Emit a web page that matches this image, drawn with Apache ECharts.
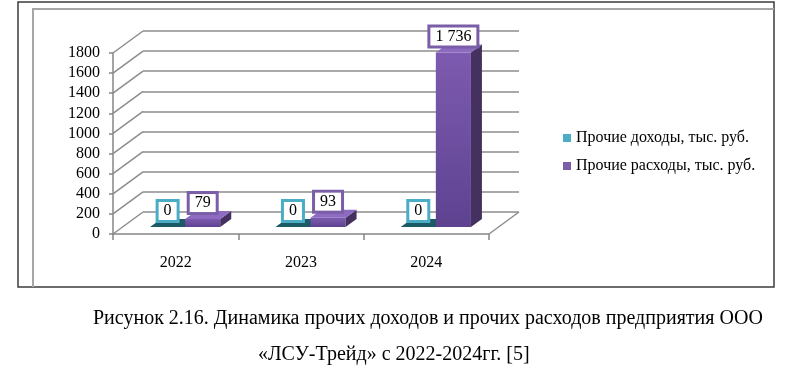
<!DOCTYPE html>
<html><head><meta charset="utf-8">
<script src="https://cdn.jsdelivr.net/npm/echarts@6/dist/echarts.min.js"></script>
<style>html,body{margin:0;padding:0;background:#fff}#c{width:800px;height:368px}</style>
</head><body><div id="c"></div>
<script>
const categories = ['2022', '2023', '2024'];
const incomeName = 'Прочие доходы, тыс. руб.';
const expenseName = 'Прочие расходы, тыс. руб.';
const incomeValues = [0, 0, 0];
const expenseValues = [79, 93, 1736];
const yTicks = [0, 200, 400, 600, 800, 1000, 1200, 1400, 1600, 1800];
const captionLine1 = 'Рисунок 2.16. Динамика прочих доходов и прочих расходов предприятия ООО';
const captionLine2 = '«ЛСУ-Трейд» с 2022-2024гг. [5]';

const SERIF = '"Liberation Serif", "Times New Roman", serif';
const WALL = [30, -22];
const BAR_FRONT = [9.5, -7];
const BAR_DEPTH = [11, -8];
const BAR_FRAC = 0.28;

function fmt(v) { return String(v).replace(/\B(?=(\d{3})+(?!\d))/g, ' '); }

function barRenderer(slot, colors) {
  return function (params, api) {
    const idx = api.value(0), v = api.value(1);
    const base = api.coord([idx, 0]);
    const top = api.coord([idx, v]);
    const bw = api.size([1, 0])[0] * BAR_FRAC;
    const x0 = base[0] + slot * bw + BAR_FRONT[0];
    const x1 = x0 + bw;
    const yb = base[1] + BAR_FRONT[1];
    const yt = top[1] + BAR_FRONT[1];
    const dx = BAR_DEPTH[0], dy = BAR_DEPTH[1];
    const children = [];
    if (yb - yt > 0.5) {
      children.push({ type: 'rect', shape: { x: x0, y: yt, width: bw, height: yb - yt },
        style: { fill: new echarts.graphic.LinearGradient(0, 0, 0, 1, [
          { offset: 0, color: colors.frontTop }, { offset: 1, color: colors.frontBottom }]) } });
      children.push({ type: 'polygon', shape: { points: [[x1, yt], [x1 + dx, yt + dy], [x1 + dx, yb + dy], [x1, yb]] },
        style: { fill: colors.side } });
    }
    children.push({ type: 'polygon', shape: { points: [[x0, yt], [x1, yt], [x1 + dx, yt + dy], [x0 + dx, yt + dy]] },
      style: { fill: colors.top } });
    children.push({ type: 'text', z2: 10, style: {
      text: fmt(v), x: x0 + bw / 2, y: yt + dy + 1, align: 'center', verticalAlign: 'bottom',
      font: '16px ' + SERIF, fill: '#000', backgroundColor: '#fff',
      borderColor: colors.label, borderWidth: 3, padding: [1, 5] } });
    return { type: 'group', children: children };
  };
}

const chart = echarts.init(document.getElementById('c'), null, { renderer: 'canvas' });
chart.setOption({
  animation: false,
  backgroundColor: '#fff',
  textStyle: { fontFamily: SERIF },
  graphic: [
    { type: 'rect', z: -10, shape: { x: 18, y: 2, width: 756, height: 285 }, style: { fill: 'none', stroke: '#3c3c3c', lineWidth: 1.5 } },
    { type: 'polyline', z: -10, shape: { points: [[33, 287], [33, 9], [774, 9]] }, style: { fill: 'none', stroke: '#a6a6a6', lineWidth: 2 } },
    { type: 'text', left: 93, top: 309, style: { text: captionLine1, font: '20px ' + SERIF, fill: '#000' } },
    { type: 'text', left: 258, top: 345, style: { text: captionLine2, font: '20px ' + SERIF, fill: '#000' } }
  ],
  legend: {
    data: [incomeName, expenseName],
    orient: 'vertical', left: 558, top: 125, itemGap: 12, itemWidth: 8, itemHeight: 8,
    icon: 'rect', textStyle: { fontFamily: SERIF, fontSize: 16, color: '#000' }
  },
  grid: [
    { left: 113, right: 311, top: 53, bottom: 134, containLabel: false },
    { left: 143, right: 281, top: 31, bottom: 156, containLabel: false }
  ],
  xAxis: [
    { gridIndex: 0, type: 'category', data: categories, boundaryGap: true,
      axisLine: { lineStyle: { color: '#868686', width: 1.5 } },
      axisTick: { show: true, length: 6, lineStyle: { color: '#868686', width: 1.5 } },
      axisLabel: { color: '#000', fontFamily: SERIF, fontSize: 16, margin: 21 } },
    { gridIndex: 1, type: 'value', min: 0, max: 1, show: false }
  ],
  yAxis: [
    { gridIndex: 0, type: 'value', min: 0, max: 1800, interval: 200,
      axisLine: { show: true, lineStyle: { color: '#868686', width: 1.5 } },
      axisTick: { show: true, length: 4, lineStyle: { color: '#868686', width: 1.5 } },
      splitLine: { show: false },
      axisLabel: { color: '#000', fontFamily: SERIF, fontSize: 16, margin: 13, formatter: function (v) { return String(v); } } },
    { gridIndex: 1, type: 'value', min: 0, max: 1800, interval: 200,
      axisLine: { show: false }, axisTick: { show: false }, axisLabel: { show: false },
      splitLine: { show: true, lineStyle: { color: '#8c8c8c', width: 1.5 } } }
  ],
  series: [
    { name: 'walls', type: 'custom', xAxisIndex: 0, yAxisIndex: 0, silent: true, clip: false, z: 1,
      data: yTicks.map(v => [0, v]),
      renderItem: function (params, api) {
        const v = api.value(1);
        const y = api.coord([0, v])[1];
        const cs = params.coordSys;
        const x0 = cs.x;
        const children = [{ type: 'line', shape: { x1: x0, y1: y, x2: x0 + WALL[0], y2: y + WALL[1] },
          style: { stroke: '#8c8c8c', lineWidth: 1.5 } }];
        if (v === 0) {
          children.push({ type: 'line', shape: { x1: x0 + cs.width, y1: y, x2: x0 + cs.width + WALL[0], y2: y + WALL[1] },
            style: { stroke: '#8c8c8c', lineWidth: 1.5 } });
        }
        return { type: 'group', children: children };
      } },
    { name: incomeName, type: 'custom', xAxisIndex: 0, yAxisIndex: 0, clip: false, z: 3,
      itemStyle: { color: '#4bacc6' },
      data: incomeValues.map((v, i) => [i, v]),
      renderItem: barRenderer(-1, { frontTop: '#3b9bb2', frontBottom: '#2b7f93', side: '#1b5560', top: '#1c5a66', label: '#4bacc6' }) },
    { name: expenseName, type: 'custom', xAxisIndex: 0, yAxisIndex: 0, clip: false, z: 4,
      itemStyle: { color: '#7b5ea8' },
      data: expenseValues.map((v, i) => [i, v]),
      renderItem: barRenderer(0, { frontTop: '#7d5bb0', frontBottom: '#5e4290', side: '#45315f', top: '#8d6bc0', label: '#7b5ea8' }) }
  ]
});
</script></body></html>
